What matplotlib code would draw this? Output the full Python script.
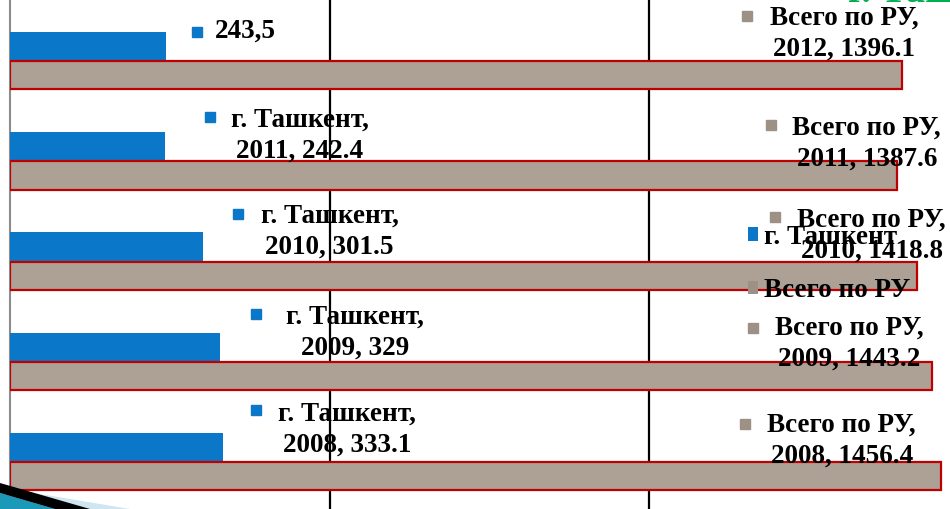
import numpy as np
import matplotlib.pyplot as plt
import matplotlib.transforms as mtransforms
from matplotlib.patches import Patch, Polygon

years = ["2008", "2009", "2010", "2011", "2012"]
tashkent = [333.1, 329, 301.5, 242.4, 243.5]
total_ru = [1456.4, 1443.2, 1418.8, 1387.6, 1396.1]
tashkent_labels = ["г. Ташкент,\n2008, 333.1", "г. Ташкент,\n2009, 329",
                   "г. Ташкент,\n2010, 301.5", "г. Ташкент,\n2011, 242.4", "243,5"]
total_labels = ["Всего по РУ,\n2008, 1456.4", "Всего по РУ,\n2009, 1443.2",
                "Всего по РУ,\n2010, 1418.8", "Всего по РУ,\n2011, 1387.6",
                "Всего по РУ,\n2012, 1396.1"]

# label offsets in pixels from bar end (text centre, marker)
blue_text_off = [(124, 17), (135, 14), (127, 15), (135, 11), (80, 15)]
blue_mark_off = [(33, 37), (36, 33), (35, 32), (45, 29), (31, 15)]
grey_text_off = [(-99, 35), (-83, 32), (-45, 40), (-30, 32), (-58, 42)]
grey_mark_off = [(-196, 52), (-179, 48), (-142, 58), (-126, 50), (-155, 59)]

BLUE = "#0a77c9"
GREY = "#ada196"
RED = "#c00000"
FONT = ["Liberation Serif", "DejaVu Serif"]

fig = plt.figure(figsize=(9.5, 5.09), dpi=100)
ax = fig.add_axes([10 / 950, 0, 1 - 10 / 950, 1])

y = np.arange(len(years))
h = 0.28
ax.barh(y + 0.145, tashkent, height=h, color=BLUE, zorder=3)
ax.barh(y - 0.145, total_ru, height=h, color=GREY, edgecolor=RED,
        linewidth=1.6, zorder=3)

ax.set_xlim(0, 1471)
ax.set_ylim(-0.48, 4.61)
for gx in [500, 1000]:
    ax.axvline(gx, color="black", linewidth=1.6, zorder=2)
ax.set_xticks([])
ax.set_yticks([])
for s in ["top", "right", "bottom"]:
    ax.spines[s].set_visible(False)
ax.spines["left"].set_color("#8c8c8c")
ax.spines["left"].set_linewidth(1.5)

def label(x, yy, text, toff, moff, mcolor):
    ax.annotate(text, xy=(x, yy), xytext=toff, textcoords="offset pixels",
                ha="center", va="center", fontsize=19.5, fontweight="bold",
                family=FONT, linespacing=1.3, zorder=5)
    tr = mtransforms.offset_copy(ax.transData, fig=fig, x=moff[0], y=moff[1],
                                 units="dots")
    ax.plot([x], [yy], marker="s", markersize=7, color=mcolor,
            transform=tr, zorder=5, clip_on=False)

for i in range(len(years)):
    label(tashkent[i], y[i] + 0.145, tashkent_labels[i],
          blue_text_off[i], blue_mark_off[i], BLUE)
    label(total_ru[i], y[i] - 0.145, total_labels[i],
          grey_text_off[i], grey_mark_off[i], "#9d9186")

handles = [Patch(facecolor=BLUE), Patch(facecolor="#9d9186")]
ax.legend(handles, ["г. Ташкент", "Всего по РУ"], loc="center left",
          bbox_to_anchor=(734 / 950, 1 - 264 / 509), bbox_transform=fig.transFigure,
          frameon=False, prop={"family": FONT, "weight": "bold", "size": 19.5},
          handlelength=0.4, handleheight=0.4, handletextpad=0.2,
          labelspacing=1.05, borderpad=0)

# clipped title at the top and slide decoration
fig.text(848 / 950, 1 - 2 / 509, "г. Ташкент", color="#00b050", fontsize=28,
         fontweight="bold", family=FONT, va="baseline", ha="left")
W, H = 950, 509
fig.patches.append(Polygon([(0 / W, 0), (130 / W, 0), (10 / W, 20 / H)],
                           closed=True, transform=fig.transFigure,
                           facecolor="#cfe6f0", edgecolor="none", zorder=6))
fig.patches.append(Polygon([(0, 0), (55 / W, 0), (0, 16 / H)], closed=True,
                           transform=fig.transFigure, facecolor="#1a9ab8",
                           edgecolor="none", zorder=7))
fig.patches.append(Polygon([(0, 16 / H), (55 / W, 0), (90 / W, 0), (0, 26 / H)],
                           closed=True, transform=fig.transFigure,
                           facecolor="black", edgecolor="none", zorder=7))

fig.savefig("out.png", dpi=100)
